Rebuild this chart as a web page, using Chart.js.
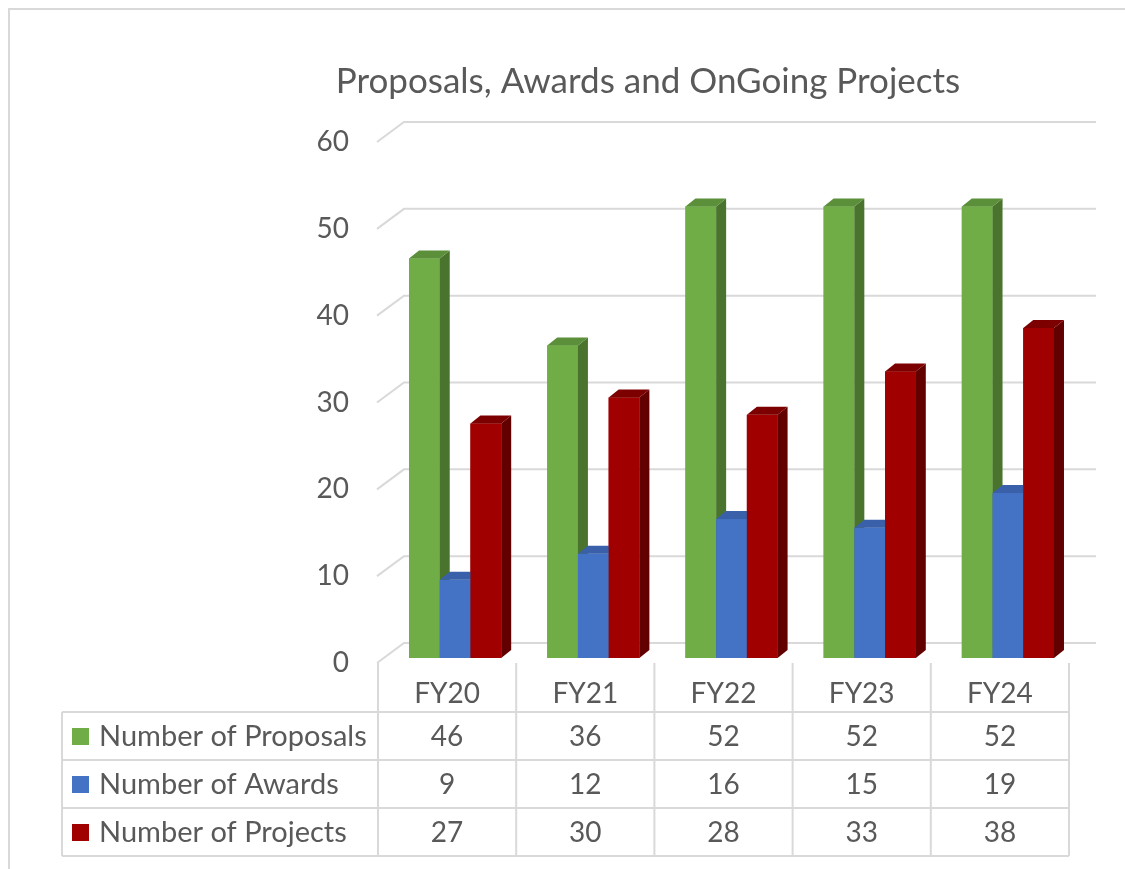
<!DOCTYPE html>
<html><head><meta charset="utf-8">
<script src="https://cdn.jsdelivr.net/npm/chart.js@4.4.1/dist/chart.umd.min.js"></script>
<style>html,body{margin:0;padding:0;background:#fff}#wrap{width:1125px;height:869px;position:relative}canvas{display:block}</style>
</head><body><div id="wrap"><canvas id="c" width="1125" height="869"></canvas></div>
<script>
const categories = ['FY20', 'FY21', 'FY22', 'FY23', 'FY24'];
const seriesNames = ['Number of Proposals', 'Number of Awards', 'Number of Projects'];
const proposals = [46, 36, 52, 52, 52];
const awards = [9, 12, 16, 15, 19];
const projects = [27, 30, 28, 33, 38];
const yTickValues = [0, 10, 20, 30, 40, 50, 60];
const titleText = 'Proposals, Awards and OnGoing Projects';

const frontColors = ['#70AD47', '#4472C4', '#A00000'];
const sideColors = ['#4A742E', '#2F5597', '#620000'];
const topColors = ['#5B8F39', '#3960A8', '#7C0000'];

const FONT = 'Lato';
const TXT = '#595959';
const GRID = '#D9D9D9';
const DX = 10, DY = 8;

const seriesValues = [proposals, awards, projects];

const excel3d = {
  id: 'excel3d',
  beforeDraw(chart) {
    const ctx = chart.ctx;
    ctx.save();
    ctx.fillStyle = '#fff';
    ctx.fillRect(0, 0, chart.width, chart.height);
    ctx.strokeStyle = GRID; ctx.lineWidth = 2;
    ctx.beginPath();
    ctx.moveTo(9, chart.height); ctx.lineTo(9, 9); ctx.lineTo(chart.width, 9);
    ctx.stroke();
    ctx.restore();
  },
  beforeDatasetsDraw(chart) {
    const {ctx, chartArea: a, scales: {y}} = chart;
    ctx.save();
    ctx.strokeStyle = GRID; ctx.lineWidth = 2;
    y.ticks.forEach(t => {
      const p = y.getPixelForValue(t.value);
      ctx.beginPath();
      ctx.moveTo(a.left - 9, p + 5);
      ctx.lineTo(a.left + 18, p - 15);
      ctx.lineTo(a.right + 19, p - 15);
      ctx.stroke();
    });
    ctx.restore();
  },
  afterDatasetsDraw(chart) {
    // redraw bars in series order (front, side, top) so later series overlap earlier depth faces
    const ctx = chart.ctx;
    ctx.save();
    chart.data.datasets.forEach((ds, i) => {
      const meta = chart.getDatasetMeta(i);
      meta.data.forEach(bar => {
        const {x, y, base, width} = bar.getProps(['x', 'y', 'base', 'width'], true);
        const l = x - width / 2, r = x + width / 2;
        ctx.fillStyle = frontColors[i];
        ctx.fillRect(l, y, width, base - y);
        ctx.fillStyle = sideColors[i];
        ctx.beginPath();
        ctx.moveTo(r, y); ctx.lineTo(r + DX, y - DY); ctx.lineTo(r + DX, base - DY); ctx.lineTo(r, base);
        ctx.closePath(); ctx.fill();
        ctx.fillStyle = topColors[i];
        ctx.beginPath();
        ctx.moveTo(l, y); ctx.lineTo(l + DX, y - DY); ctx.lineTo(r + DX, y - DY); ctx.lineTo(r, y);
        ctx.closePath(); ctx.fill();
      });
    });
    ctx.restore();
  },
  afterDraw(chart) {
    const {ctx, chartArea: a, scales: {x}} = chart;
    const n = categories.length;
    const cw = (x.right - x.left) / n;
    const shift = -8;
    const centers = categories.map((c, i) => x.getPixelForValue(i) + shift);
    const edges = centers.map(c => c - cw / 2).concat([centers[n - 1] + cw / 2]);
    const headTop = a.bottom + 5;
    const rowTop = a.bottom + 54;
    const rowH = 48;
    const tableLeft = 62;
    const tableRight = edges[edges.length - 1];
    const tableBottom = rowTop + rowH * seriesNames.length;
    ctx.save();
    ctx.strokeStyle = GRID; ctx.lineWidth = 2;
    ctx.beginPath();
    for (let k = 0; k <= seriesNames.length; k++) {
      ctx.moveTo(tableLeft, rowTop + k * rowH);
      ctx.lineTo(tableRight, rowTop + k * rowH);
    }
    ctx.moveTo(tableLeft, rowTop); ctx.lineTo(tableLeft, tableBottom);
    edges.forEach(e => { ctx.moveTo(e, headTop); ctx.lineTo(e, tableBottom); });
    ctx.stroke();

    ctx.fillStyle = TXT;
    ctx.textBaseline = 'alphabetic';
    ctx.textAlign = 'center';
    ctx.font = '28px ' + FONT;
    categories.forEach((c, i) => ctx.fillText(c, centers[i], headTop + 40));
    seriesNames.forEach((s, r) => {
      const top = rowTop + r * rowH;
      const base = top + 34;
      ctx.fillStyle = frontColors[r];
      ctx.fillRect(72, top + rowH / 2 - 8, 17, 17);
      ctx.fillStyle = TXT;
      ctx.textAlign = 'left';
      ctx.font = '29px ' + FONT;
      ctx.fillText(s, 99, base);
      ctx.textAlign = 'center';
      ctx.font = '28px ' + FONT;
      seriesValues[r].forEach((v, i) => ctx.fillText(String(v), centers[i], base));
    });
    ctx.restore();
  }
};

const datasets = seriesNames.map((name, i) => ({
  label: name,
  data: seriesValues[i],
  backgroundColor: frontColors[i],
  borderWidth: 0,
  categoryPercentage: 0.667,
  barPercentage: 1.0
}));

new Chart(document.getElementById('c'), {
  type: 'bar',
  data: { labels: categories, datasets },
  options: {
    responsive: false,
    animation: false,
    devicePixelRatio: 1,
    layout: { padding: { left: 219, right: 48, top: 0, bottom: 211 } },
    plugins: {
      legend: { display: false },
      tooltip: { enabled: false },
      title: {
        display: true,
        text: titleText,
        color: TXT,
        font: { family: FONT, size: 35, weight: 'normal', lineHeight: 1.2 },
        padding: { top: 61, bottom: 34 }
      }
    },
    scales: {
      x: { display: false, offset: true },
      y: {
        min: 0, max: 60,
        afterFit(s) { s.width = 167; },
        afterBuildTicks(s) { s.ticks = yTickValues.map(v => ({ value: v })); },
        grid: { display: false, drawTicks: false },
        border: { display: false },
        ticks: {
          color: TXT,
          padding: 37,
          labelOffset: 5,
          font: { family: FONT, size: 28 }
        }
      }
    }
  },
  plugins: [excel3d]
});
</script>
</body></html>
